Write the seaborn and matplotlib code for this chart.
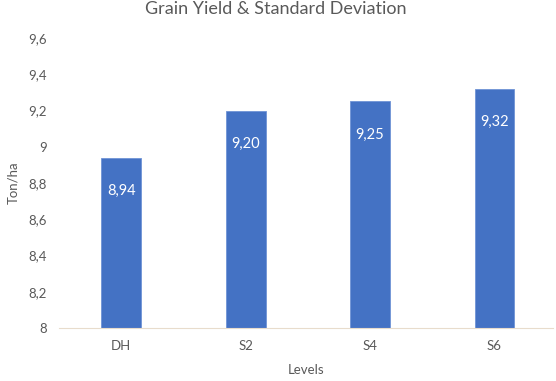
import matplotlib
matplotlib.use("Agg")
import matplotlib.pyplot as plt
import seaborn as sns
import pandas as pd
from matplotlib.ticker import FuncFormatter

categories = ["DH", "S2", "S4", "S6"]
values = [8.94, 9.20, 9.25, 9.32]
labels = ["8,94", "9,20", "9,25", "9,32"]

sns.set_theme(style="white")
plt.rcParams["font.family"] = ["Lato", "DejaVu Sans"]

df = pd.DataFrame({"Levels": categories, "Ton/ha": values})

fig = plt.figure(figsize=(5.56, 3.81), dpi=100)
ax = fig.add_axes([59/556, 1 - 328/381, (553 - 59)/556, (328 - 38)/381])

sns.barplot(data=df, x="Levels", y="Ton/ha", color="#4472C4", width=0.32,
            ax=ax, saturation=1, edgecolor="#6f93d6", linewidth=0.6)

ax.set_ylim(8, 9.6)
ax.set_xlim(-0.5, 3.47)
ax.set_yticks([8, 8.2, 8.4, 8.6, 8.8, 9, 9.2, 9.4, 9.6])
ax.yaxis.set_major_formatter(FuncFormatter(lambda v, p: ("%g" % round(v, 1)).replace(".", ",")))

for i, (v, lab) in enumerate(zip(values, labels)):
    ax.annotate(lab, xy=(i, v), xytext=(0, -24), textcoords="offset points",
                ha="center", va="center", color="white", fontsize=10.5)

for s in ["top", "right", "left"]:
    ax.spines[s].set_visible(False)
ax.spines["bottom"].set_color("#e8dccc")
ax.spines["bottom"].set_linewidth(0.8)

ax.tick_params(axis="both", length=0, colors="#595959", labelsize=9.5)
ax.tick_params(axis="y", pad=9)
ax.tick_params(axis="x", pad=9)

ax.set_xlabel("Levels", color="#595959", fontsize=9.5, labelpad=8)
ax.set_ylabel("Ton/ha", color="#595959", fontsize=9.5, va="center")
ax.yaxis.set_label_coords(-(59 - 13) / 494, 0.5)
fig.suptitle("Grain Yield & Standard Deviation", x=(152+400)/2/556, y=1 - 1/381,
             va="top", color="#595959", fontsize=13)

fig.savefig("out.png", dpi=100)
